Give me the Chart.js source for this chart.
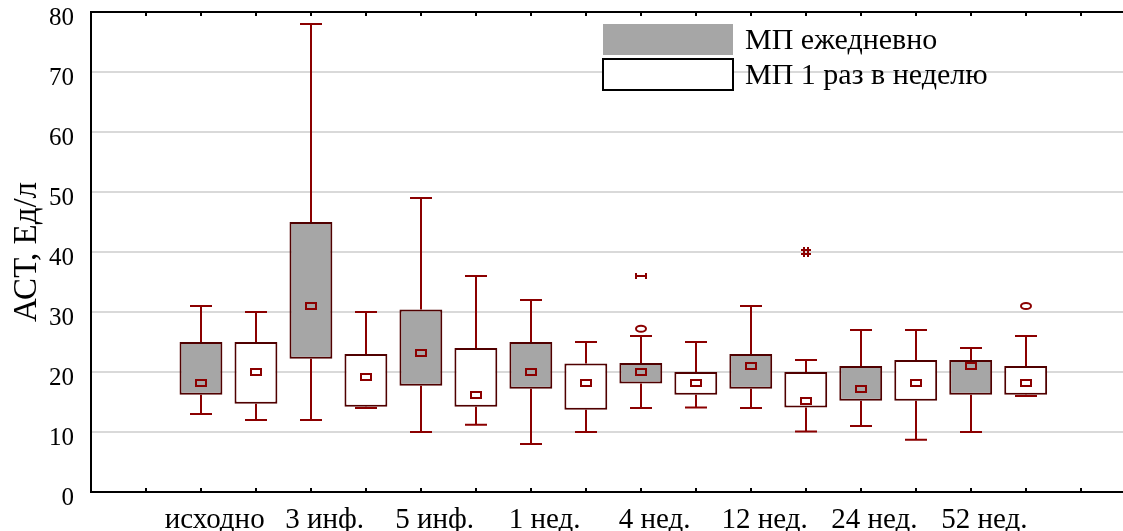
<!DOCTYPE html>
<html lang="ru">
<head>
<meta charset="UTF-8">
<title>АСТ, Ед/л</title>
<script src="https://cdn.jsdelivr.net/npm/chart.js"></script>
<style>
  html, body { margin: 0; padding: 0; background: #fff; }
  #wrap { width: 1123px; height: 531px; }
</style>
</head>
<body>
<div id="wrap"><canvas id="chart" width="1123" height="531"></canvas></div>
<script>
const categories = ['исходно', '3 инф.', '5 инф.', '1 нед.', '4 нед.', '12 нед.', '24 нед.', '52 нед.'];
const seriesNames = ['МП ежедневно', 'МП 1 раз в неделю'];
const yTicks = [0, 10, 20, 30, 40, 50, 60, 70, 80];

// МП ежедневно
const dailyMin = [13, 12, 10, 8, 14, 14, 11, 10];
const dailyQ1 = [16.2, 22.2, 17.7, 17.2, 18.1, 17.2, 15.2, 16.2];
const dailyMedian = [18.2, 31, 23.1, 20, 20, 21, 17.1, 21];
const dailyQ3 = [25, 45, 30.4, 25, 21.5, 23, 21, 22];
const dailyMax = [31, 78, 49, 32, 26, 31, 27, 24];
const dailyOutliers = [[], [], [], [], [27.2], [], [], []];
const dailyExtremes = [[], [], [], [], [36], [], [], []];

// МП 1 раз в неделю
const weeklyMin = [12, 14, 11.2, 10, 14.1, 10.1, 8.7, 16];
const weeklyQ1 = [14.7, 14.2, 14.2, 13.7, 16.2, 14.1, 15.2, 16.2];
const weeklyMedian = [20, 19.2, 16.1, 18.2, 18.2, 15.1, 18.2, 18.2];
const weeklyQ3 = [25, 23, 24, 21.4, 20, 20, 22, 21];
const weeklyMax = [30, 30, 36, 25, 25, 22, 27, 26];
const weeklyOutliers = [[], [], [], [], [], [], [], [31]];
const weeklyExtremes = [[], [], [], [], [], [40], [], []];

const SERIF = '"Liberation Serif", "Times New Roman", serif';
const WHISKER = '#8b0000';
const BOX_EDGE = '#500000';
const GRAY = '#a6a6a6';

const series = [
  { name: seriesNames[0], fill: GRAY, min: dailyMin, q1: dailyQ1, med: dailyMedian, q3: dailyQ3, max: dailyMax, out: dailyOutliers, ext: dailyExtremes },
  { name: seriesNames[1], fill: '#ffffff', min: weeklyMin, q1: weeklyQ1, med: weeklyMedian, q3: weeklyQ3, max: weeklyMax, out: weeklyOutliers, ext: weeklyExtremes }
];

// slot of a box on the linear x axis: two boxes per category
const slotOf = (i, s) => 2 + 2 * i + s;

const boxExtras = {
  id: 'boxExtras',
  beforeDatasetsDraw(chart) {
    const { ctx, scales: { x, y } } = chart;
    ctx.save();
    ctx.strokeStyle = WHISKER;
    ctx.lineWidth = 2;
    series.forEach((ser, s) => {
      categories.forEach((_, i) => {
        const px = Math.round(x.getPixelForValue(slotOf(i, s)));
        [[ser.q3[i], ser.max[i]], [ser.q1[i], ser.min[i]]].forEach(([from, to]) => {
          const y0 = y.getPixelForValue(from), y1 = y.getPixelForValue(to);
          ctx.beginPath();
          ctx.moveTo(px, y0);
          ctx.lineTo(px, y1);
          ctx.moveTo(px - 11, y1);
          ctx.lineTo(px + 11, y1);
          ctx.stroke();
        });
      });
    });
    ctx.restore();
  },
  afterDatasetsDraw(chart) {
    const { ctx, scales: { x, y } } = chart;
    ctx.save();
    ctx.strokeStyle = WHISKER;
    ctx.lineWidth = 2;
    series.forEach((ser, s) => {
      categories.forEach((_, i) => {
        const px = Math.round(x.getPixelForValue(slotOf(i, s)));
        // median marker
        const my = Math.round(y.getPixelForValue(ser.med[i]));
        ctx.fillStyle = ser.fill;
        ctx.fillRect(px - 5, my - 3, 10, 6);
        ctx.strokeRect(px - 5, my - 3, 10, 6);
        // outliers: small ellipse
        ser.out[i].forEach(v => {
          const oy = y.getPixelForValue(v);
          ctx.beginPath();
          ctx.ellipse(px, oy, 5, 3, 0, 0, Math.PI * 2);
          ctx.stroke();
        });
        // extremes
        ser.ext[i].forEach(v => {
          const ey = y.getPixelForValue(v);
          ctx.beginPath();
          if (s === 0) {
            ctx.moveTo(px - 5, ey); ctx.lineTo(px + 5, ey);
            ctx.moveTo(px - 5, ey - 3); ctx.lineTo(px - 5, ey + 3);
            ctx.moveTo(px + 5, ey - 3); ctx.lineTo(px + 5, ey + 3);
          } else {
            ctx.moveTo(px - 5, ey - 2); ctx.lineTo(px + 5, ey - 2);
            ctx.moveTo(px - 5, ey + 2); ctx.lineTo(px + 5, ey + 2);
            ctx.moveTo(px - 2, ey - 5); ctx.lineTo(px - 2, ey + 5);
            ctx.moveTo(px + 2, ey - 5); ctx.lineTo(px + 2, ey + 5);
          }
          ctx.stroke();
        });
      });
    });
    ctx.restore();
  },
  afterDraw(chart) {
    const { ctx, chartArea: a, scales: { x } } = chart;
    ctx.save();
    // top frame line and inward tick marks
    ctx.strokeStyle = '#000';
    ctx.lineWidth = 2;
    ctx.beginPath();
    ctx.moveTo(a.left, a.top);
    ctx.lineTo(a.right, a.top);
    ctx.stroke();
    ctx.beginPath();
    for (let v = 1; v <= Math.floor(x.max); v++) {
      const px = Math.round(x.getPixelForValue(v));
      ctx.moveTo(px, a.top);
      ctx.lineTo(px, a.top + 4);
      ctx.moveTo(px, a.bottom);
      ctx.lineTo(px, a.bottom - 4);
    }
    ctx.stroke();

    // legend
    const lx = a.left + 512, ly = a.top + 12;
    ctx.fillStyle = GRAY;
    ctx.fillRect(lx, ly, 130, 31);
    ctx.fillStyle = '#fff';
    ctx.fillRect(lx, ly + 35, 130, 31);
    ctx.strokeRect(lx, ly + 35, 130, 31);
    ctx.fillStyle = '#000';
    ctx.font = '30px ' + SERIF;
    ctx.textAlign = 'left';
    ctx.textBaseline = 'middle';
    ctx.fillText(seriesNames[0], lx + 142, ly + 17);
    ctx.fillText(seriesNames[1], lx + 142, ly + 52);
    ctx.restore();
  }
};

new Chart(document.getElementById('chart'), {
  type: 'bar',
  data: {
    datasets: series.map((ser, s) => ({
      label: ser.name,
      data: categories.map((_, i) => ({ x: slotOf(i, s), y: [ser.q1[i], ser.q3[i]] })),
      backgroundColor: ser.fill,
      borderColor: BOX_EDGE,
      borderWidth: 2,
      borderSkipped: false,
      grouped: false,
      barPercentage: 0.78,
      categoryPercentage: 1
    }))
  },
  options: {
    responsive: false,
    animation: false,
    layout: { padding: { top: 12, right: 0, bottom: 0, left: 0 } },
    plugins: { legend: { display: false }, tooltip: { enabled: false } },
    scales: {
      x: {
        type: 'linear',
        offset: false,
        min: 0,
        max: 18.77,
        grid: { display: false },
        border: { color: '#000', width: 2 },
        afterBuildTicks: scale => { scale.ticks = categories.map((_, i) => ({ value: slotOf(i, 0) + 0.25 })); },
        afterFit: scale => { scale.height = 39; scale.paddingLeft = 0; scale.paddingRight = 0; },
        ticks: {
          autoSkip: false,
          maxRotation: 0,
          padding: 3,
          color: '#000',
          font: { family: SERIF, size: 29 },
          callback: (v, idx) => categories[idx]
        }
      },
      y: {
        min: 0,
        max: 80,
        afterBuildTicks: scale => { scale.ticks = yTicks.map(v => ({ value: v })); },
        afterFit: scale => { scale.width = 91; scale.paddingTop = 0; scale.paddingBottom = 0; },
        grid: {
          color: c => (c.tick && c.tick.value > 0 && c.tick.value < 80) ? '#d9d9d9' : 'rgba(0,0,0,0)',
          lineWidth: 2,
          drawTicks: false
        },
        border: { color: '#000', width: 2 },
        ticks: { padding: 17, labelOffset: 6, color: '#000', font: { family: SERIF, size: 25 } },
        title: { display: true, text: 'АСТ, Ед/л', color: '#000', font: { family: SERIF, size: 33 }, padding: { top: 8, bottom: 0 } }
      }
    }
  },
  plugins: [boxExtras]
});
</script>
</body>
</html>
